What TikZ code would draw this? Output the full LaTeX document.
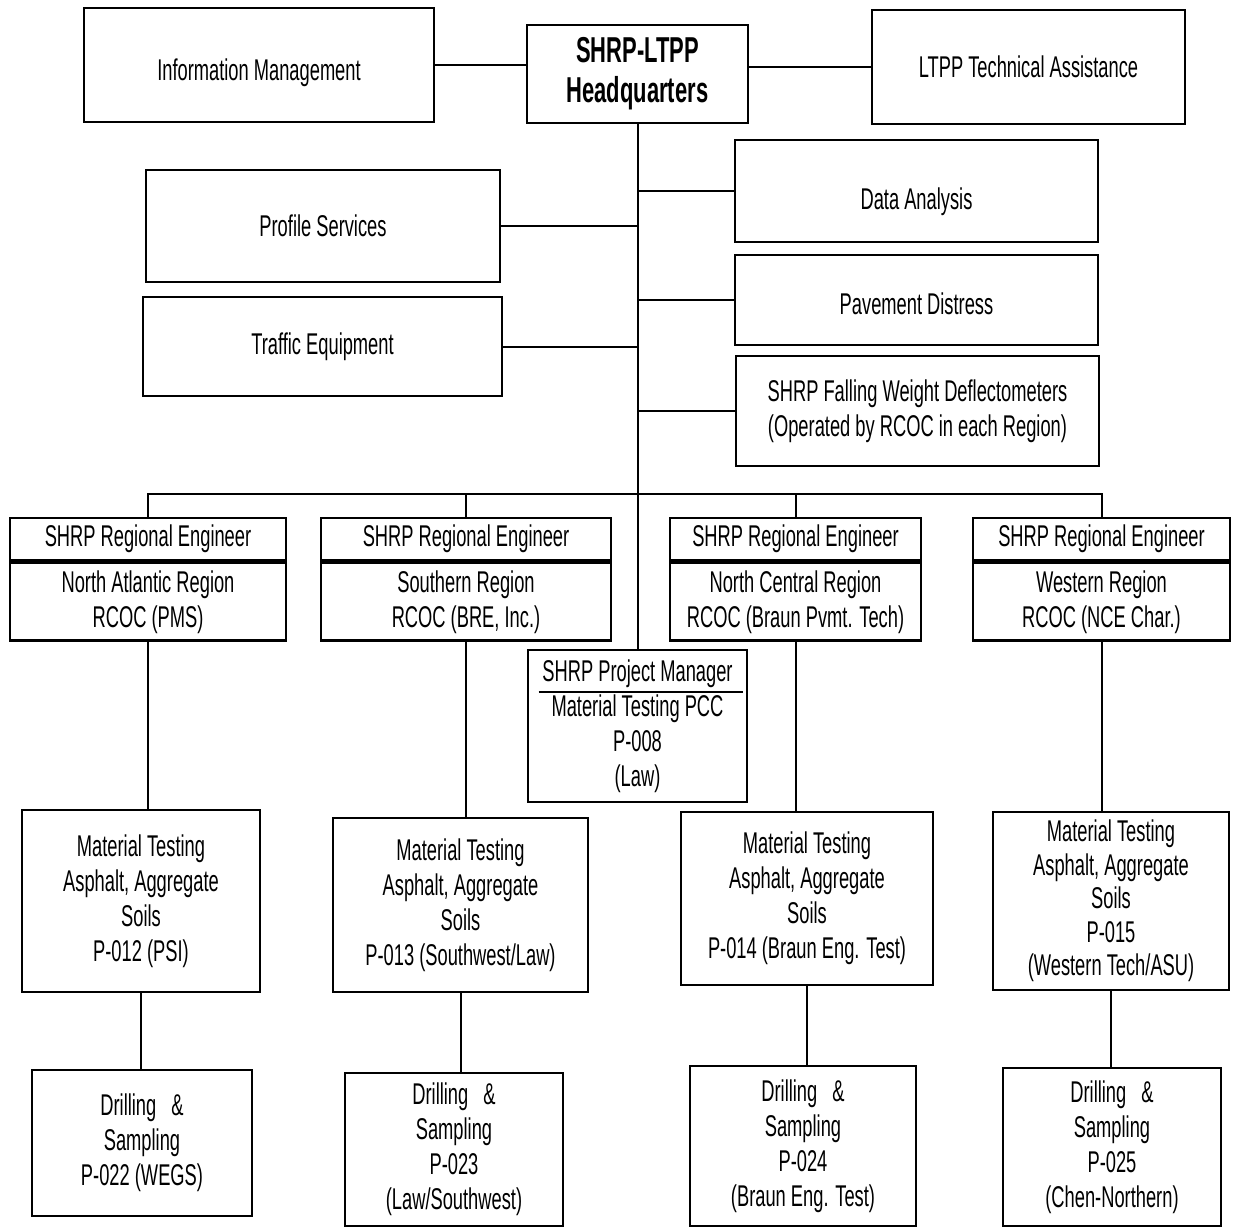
\documentclass[tikz,border=0pt]{standalone}
\usepackage{fontspec}
\setmainfont{Liberation Sans}[FakeStretch=0.61]

\tikzset{
  orgbox/.style={draw, line width=1.4pt, inner sep=0pt, align=center,
    font=\fontsize{15}{17.5}\selectfont},
  link/.style={line width=1pt}
}

\begin{document}
\begin{tikzpicture}[x=0.5pt, y=-0.5pt]

\useasboundingbox (0,0) rectangle (1233,1228);

% draw top row

\node[orgbox, minimum width=175pt, minimum height=57pt, text height=19pt] (info) at (259,65) {Information Management};
\node[orgbox, minimum width=110.5pt, minimum height=49pt, font=\fontsize{18}{20}\selectfont\bfseries] (hq) at (637.5,74) {SHRP-LTPP\\Headquarters};
\node[orgbox, minimum width=156.5pt, minimum height=57pt] (tech) at (1028.5,67) {LTPP Technical Assistance};

\draw[link] (info.east) -- (info.east -| hq.west);
\draw[link] (hq.east |- tech.west) -- (tech.west);

% draw staff boxes

\node[orgbox, minimum width=181.5pt, minimum height=51pt, text height=22pt] (data) at (916.5,191) {Data Analysis};
\node[orgbox, minimum width=177pt, minimum height=56pt] (profile) at (323,226) {Profile Services};
\node[orgbox, minimum width=181.5pt, minimum height=45pt, text height=15pt] (distress) at (916.5,300) {Pavement Distress};
\node[orgbox, minimum width=179.5pt, minimum height=49.5pt] (traffic) at (322.5,346.5) {Traffic Equipment};
\node[orgbox, minimum width=181.5pt, minimum height=55pt] (fwd) at (917.5,411) {SHRP Falling Weight Deflectometers\\(Operated by RCOC in each Region)};

% draw project manager

\node[orgbox, minimum width=109.5pt, minimum height=76pt] (pm) at (637.5,726) {SHRP Project Manager\\Material Testing PCC\\P-008\\(Law)};
\draw[link] ([xshift=6pt,yshift=-21.5pt]pm.north west) -- ([xshift=-2.5pt,yshift=-21.5pt]pm.north east);

\draw[link] (hq.south) -- (pm.north);
\draw[link] (data.west) -- (data.west -| hq.south);
\draw[link] (profile.east) -- (profile.east -| hq.south);
\draw[link] (distress.west) -- (distress.west -| hq.south);
\draw[link] (traffic.east) -- (traffic.east -| hq.south);
\draw[link] (fwd.west) -- (fwd.west -| hq.south);

% draw regions

\node[orgbox, minimum width=138pt, minimum height=21pt] (na-head) at (148,539) {SHRP Regional Engineer};
\node[orgbox, minimum width=138pt, minimum height=39pt, anchor=north] (na-body) at (na-head.south) {North Atlantic Region\\RCOC (PMS)};

\node[orgbox, minimum width=145pt, minimum height=21pt] (so-head) at (466,539) {SHRP Regional Engineer};
\node[orgbox, minimum width=145pt, minimum height=39pt, anchor=north] (so-body) at (so-head.south) {Southern Region\\RCOC (BRE, Inc.)};

\node[orgbox, minimum width=125.5pt, minimum height=21pt] (nc-head) at (795.5,539) {SHRP Regional Engineer};
\node[orgbox, minimum width=125.5pt, minimum height=39pt, anchor=north] (nc-body) at (nc-head.south) {North Central Region\\RCOC (Braun Pvmt. Tech)};

\node[orgbox, minimum width=128.5pt, minimum height=21pt] (we-head) at (1101.5,539) {SHRP Regional Engineer};
\node[orgbox, minimum width=128.5pt, minimum height=39pt, anchor=north] (we-body) at (we-head.south) {Western Region\\RCOC (NCE Char.)};

\coordinate (bus) at (637.5,494);

\draw[link] (na-head.north) |- (bus) -| (we-head.north);
\draw[link] (so-head.north) -- (so-head.north |- bus);
\draw[link] (nc-head.north) -- (nc-head.north |- bus);

% draw material testing

\node[orgbox, minimum width=119pt, minimum height=91pt] (mna) at (141,901) {Material Testing\\Asphalt, Aggregate\\Soils\\P-012 (PSI)};
\node[orgbox, minimum width=127.5pt, minimum height=87pt] (mso) at (460.5,905) {Material Testing\\Asphalt, Aggregate\\Soils\\P-013 (Southwest/Law)};
\node[orgbox, minimum width=126pt, minimum height=86.5pt] (mnc) at (807,898.5) {Material Testing\\Asphalt, Aggregate\\Soils\\P-014 (Braun Eng. Test)};
\node[orgbox, minimum width=118pt, minimum height=89pt, font=\fontsize{15}{16.8}\selectfont] (mwe) at (1111,901) {Material Testing\\Asphalt, Aggregate\\Soils\\P-015\\(Western Tech/ASU)};

\draw[link] (na-body.south) -- (na-body.south |- mna.north);
\draw[link] (so-body.south) -- (so-body.south |- mso.north);
\draw[link] (nc-body.south) -- (nc-body.south |- mnc.north);
\draw[link] (we-body.south) -- (we-body.south |- mwe.north);

% draw drilling and sampling

\node[orgbox, minimum width=110pt, minimum height=73pt] (dna) at (142,1143) {Drilling\enspace\&\\Sampling\\P-022 (WEGS)};
\node[orgbox, minimum width=109pt, minimum height=76.5pt] (dso) at (454,1149.5) {Drilling\enspace\&\\Sampling\\P-023\\(Law/Southwest)};
\node[orgbox, minimum width=113pt, minimum height=80pt] (dnc) at (803,1146) {Drilling\enspace\&\\Sampling\\P-024\\(Braun Eng. Test)};
\node[orgbox, minimum width=109pt, minimum height=79pt] (dwe) at (1112,1147) {Drilling\enspace\&\\Sampling\\P-025\\(Chen-Northern)};

\draw[link] (mna.south) -- (mna.south |- dna.north);
\draw[link] (mso.south) -- (mso.south |- dso.north);
\draw[link] (mnc.south) -- (mnc.south |- dnc.north);
\draw[link] (mwe.south) -- (mwe.south |- dwe.north);

\end{tikzpicture}
\end{document}
